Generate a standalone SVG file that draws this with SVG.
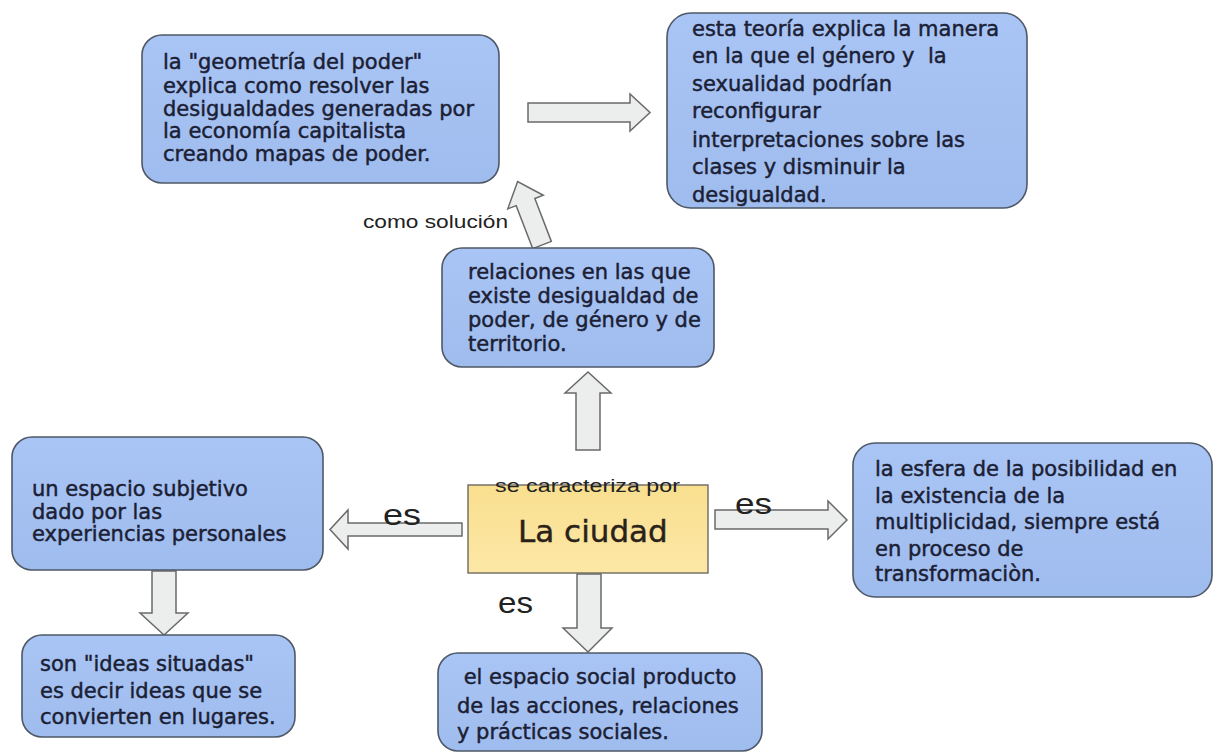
<svg xmlns="http://www.w3.org/2000/svg" width="1217" height="754" viewBox="0 0 1217 754">
<defs>
<linearGradient id="gBlue" x1="0" y1="0" x2="0" y2="1">
<stop offset="0" stop-color="#a9c5f5"/>
<stop offset="1" stop-color="#9fbcee"/>
</linearGradient>
<linearGradient id="gYel" x1="0" y1="0" x2="0" y2="1">
<stop offset="0" stop-color="#f9df8f"/>
<stop offset="1" stop-color="#fce7a6"/>
</linearGradient>
<style>
.box{fill:url(#gBlue);stroke:#4e5866;stroke-width:1.6}
.main{fill:url(#gYel);stroke:#6e6a60;stroke-width:1.4}
.t{font-family:"DejaVu Sans",sans-serif;font-size:21px;fill:#1b2034;stroke:#1b2034;stroke-width:0.45;white-space:pre}
.lbl{font-family:"Liberation Sans",Arial,sans-serif;fill:#222}
.arr{fill:#eceeee;stroke:#6a6a6a;stroke-width:1.5;stroke-linejoin:miter}
</style>
</defs>
<rect width="1217" height="754" fill="#ffffff"/>

<g id="connectors">
<path class="arr" d="M528,103 H630 V94 L650,112.5 L630,131 V122 H528 Z"/>
<path class="arr" transform="translate(542,245) rotate(-21)" d="M-10,0 V-46 H-19 L0,-68 L19,-46 H10 V0 Z"/>
<path class="arr" d="M576,450 V393 H565 L588,372 L611,393 H600 V450 Z"/>
<path class="arr" d="M462,523 H348 V510 L330,529.5 L348,549 V536 H462 Z"/>
<path class="arr" d="M715,510 H828 V501 L847,520 L828,539 V529 H715 Z"/>
<path class="arr" d="M577,574 V628 H563 L588,652 L612,628 H601 V574 Z"/>
<path class="arr" d="M152,571 V613 H140 L164,635 L188,613 H176 V571 Z"/>
<text class="lbl" x="363" y="228" font-size="19" textLength="145" lengthAdjust="spacingAndGlyphs">como solución</text>
<text class="lbl" x="383" y="525" font-size="29" textLength="38" lengthAdjust="spacingAndGlyphs">es</text>
<text class="lbl" x="735" y="514" font-size="29" textLength="37" lengthAdjust="spacingAndGlyphs">es</text>
<text class="lbl" x="498" y="613" font-size="29" textLength="35" lengthAdjust="spacingAndGlyphs">es</text>
</g>

<g id="node-geometria">
<rect class="box" x="142" y="35" width="357" height="148" rx="20"/>
<text class="t" x="163" y="69">la "geometría del poder"</text>
<text class="t" x="163" y="93">explica como resolver las</text>
<text class="t" x="163" y="116">desigualdades generadas por</text>
<text class="t" x="163" y="138">la economía capitalista</text>
<text class="t" x="163" y="161">creando mapas de poder.</text>
</g>

<g id="node-teoria">
<rect class="box" x="667" y="13" width="360" height="195" rx="24"/>
<text class="t" x="692" y="36">esta teoría explica la manera</text>
<text class="t" x="692" y="63">en la que el género y  la</text>
<text class="t" x="692" y="91">sexualidad podrían</text>
<text class="t" x="692" y="118">reconfigurar</text>
<text class="t" x="692" y="147">interpretaciones sobre las</text>
<text class="t" x="692" y="174">clases y disminuir la</text>
<text class="t" x="692" y="202">desigualdad.</text>
</g>

<g id="node-relaciones">
<rect class="box" x="442" y="248" width="272" height="119" rx="20"/>
<text class="t" x="468" y="279">relaciones en las que</text>
<text class="t" x="468" y="303">existe desigualdad de</text>
<text class="t" x="468" y="327">poder, de género y de</text>
<text class="t" x="468" y="351">territorio.</text>
</g>

<g id="node-ciudad">
<rect class="main" x="468" y="485" width="240" height="88"/>
<text x="518" y="542" font-family="DejaVu Sans, sans-serif" font-size="31" fill="#2a2118" stroke="#2a2118" stroke-width="0.4">La ciudad</text>
<text class="lbl" x="495" y="492" font-size="19" textLength="185" lengthAdjust="spacingAndGlyphs">se caracteriza por</text>
</g>

<g id="node-subjetivo">
<rect class="box" x="12" y="437" width="311" height="133" rx="20"/>
<text class="t" x="32" y="496">un espacio subjetivo</text>
<text class="t" x="32" y="519">dado por las</text>
<text class="t" x="32" y="541">experiencias personales</text>
</g>

<g id="node-esfera">
<rect class="box" x="853" y="443" width="359" height="154" rx="22"/>
<text class="t" x="875" y="476">la esfera de la posibilidad en</text>
<text class="t" x="875" y="503">la existencia de la</text>
<text class="t" x="875" y="529">multiplicidad, siempre está</text>
<text class="t" x="875" y="556">en proceso de</text>
<text class="t" x="875" y="581">transformaciòn.</text>
</g>

<g id="node-ideas">
<rect class="box" x="22" y="635" width="273" height="102" rx="20"/>
<text class="t" x="40" y="671">son "ideas situadas"</text>
<text class="t" x="40" y="698">es decir ideas que se</text>
<text class="t" x="40" y="724">convierten en lugares.</text>
</g>

<g id="node-social">
<rect class="box" x="438" y="653" width="324" height="98" rx="20"/>
<text class="t" x="457" y="684"> el espacio social producto</text>
<text class="t" x="457" y="713">de las acciones, relaciones</text>
<text class="t" x="457" y="739">y prácticas sociales.</text>
</g>
</svg>
